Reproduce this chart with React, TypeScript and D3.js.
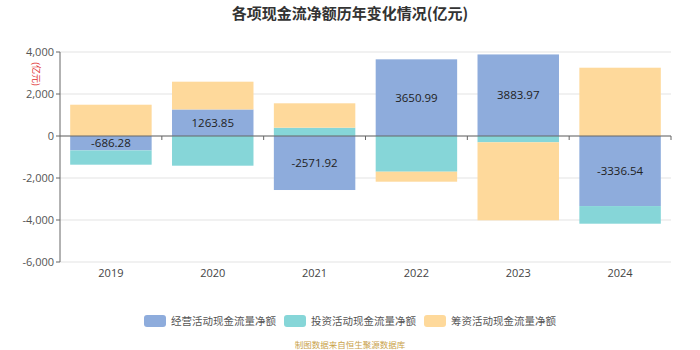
import React from "react";
import * as d3 from "d3";

const years = ["2019", "2020", "2021", "2022", "2023", "2024"];
const operating = [-686.28, 1263.85, -2571.92, 3650.99, 3883.97, -3336.54];
const investing = [-680, -1414, 395, -1700, -300, -840];
const financing = [1490, 1322, 1162, -476, -3714, 3252];
const yTicks = [-6000, -4000, -2000, 0, 2000, 4000];
const seriesNames = ["经营活动现金流量净额", "投资活动现金流量净额", "筹资活动现金流量净额"];
const colors = ["#8eacdc", "#86d6d8", "#fed99b"];

const W = 700, H = 350;
const left = 60, right = 671, top = 52, bottom = 262;

export default function App() {
  const x = d3.scaleBand<string>().domain(years).range([left, right]).paddingInner(0.2).paddingOuter(0.1);
  const xb = d3.scaleBand<string>().domain(years).range([left, right]);
  const y = d3.scaleLinear().domain([-6000, 4000]).range([bottom, top]);
  const series = [operating, investing, financing];

  const rects: JSX.Element[] = [];
  years.forEach((yr, i) => {
    let pos = 0, neg = 0;
    series.forEach((s, si) => {
      const v = s[i];
      let y0: number, y1: number;
      if (v >= 0) { y0 = pos; y1 = pos + v; pos = y1; }
      else { y0 = neg; y1 = neg + v; neg = y1; }
      const yt = y(Math.max(y0, y1)), yb = y(Math.min(y0, y1));
      rects.push(
        <rect key={`${si}-${i}`} x={x(yr)!} y={yt} width={x.bandwidth()} height={yb - yt} fill={colors[si]} />
      );
    });
  });

  const legendX = [144, 284, 424];

  return (
    <svg width={W} height={H} style={{ position: "absolute", left: 0, top: 0, fontFamily: "'Noto Sans CJK SC', 'Noto Sans', sans-serif" }}>
      <text x={350} y={19} textAnchor="middle" fontSize={15} fontWeight="bold" fill="#333">各项现金流净额历年变化情况(亿元)</text>
      {yTicks.map(t => (
        <g key={t}>
          <line x1={left} x2={right} y1={y(t)} y2={y(t)} stroke="#e3e3e3" strokeWidth={1} />
          <line x1={left - 4} x2={left} y1={y(t)} y2={y(t)} stroke="#666" />
          <text x={left - 6} y={y(t) + 4} textAnchor="end" fontSize={11} fill="#555" fontFamily="'Open Sans', 'Noto Sans', sans-serif">{d3.format(",")(t).replace("−", "-")}</text>
        </g>
      ))}
      <text transform={`translate(33,62) rotate(90)`} fontSize={9} fill="#e03030" textAnchor="start">(亿元)</text>
      {rects}
      <line x1={left} x2={left} y1={top} y2={bottom} stroke="#666" />
      <line x1={left} x2={right} y1={y(0)} y2={y(0)} stroke="#666" />
      {years.map((yr, i) => (
        <line key={"t" + yr} x1={xb(yr)! + xb.bandwidth()} x2={xb(yr)! + xb.bandwidth()} y1={y(0)} y2={y(0) + 4} stroke="#666" />
      ))}
      {years.map(yr => (
        <text key={"l" + yr} x={xb(yr)! + xb.bandwidth() / 2} y={277} textAnchor="middle" fontSize={11} fill="#444" fontFamily="'Open Sans', 'Noto Sans', sans-serif">{yr}</text>
      ))}
      {years.map((yr, i) => (
        <text key={"v" + yr} x={x(yr)! + x.bandwidth() / 2} y={(y(0) + y(operating[i])) / 2 + 4} textAnchor="middle" fontSize={11.5} fill="#222" fontFamily="'Open Sans', 'Noto Sans', sans-serif">{operating[i].toFixed(2)}</text>
      ))}
      {seriesNames.map((n, i) => (
        <g key={n}>
          <rect x={legendX[i]} y={315} width={22} height={12} rx={3} fill={colors[i]} />
          <text x={legendX[i] + 27} y={325} fontSize={10.5} fill="#555">{n}</text>
        </g>
      ))}
      <text x={350} y={348} textAnchor="middle" fontSize={8.5} fill="#c9a24a">制图数据来自恒生聚源数据库</text>
    </svg>
  );
}
